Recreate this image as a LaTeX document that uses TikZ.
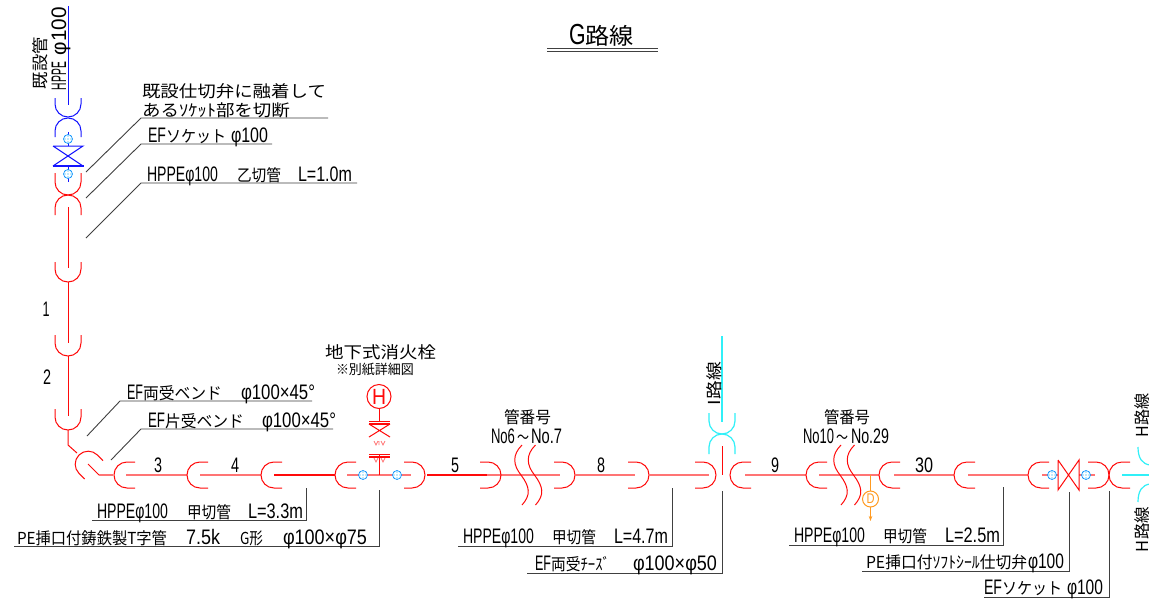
\documentclass[tikz,border=0pt]{standalone}
\usepackage{fontspec}
\usepackage{graphicx}
\usetikzlibrary{arrows.meta}
\newfontfamily\cjkfam{Noto Sans CJK JP}
\newfontfamily\latfam{Liberation Sans}
\newcommand\cjkf{\cjkfam\fontsize{16.5}{16.5}\selectfont}
\newcommand\latf{\latfam\fontsize{21}{21}\selectfont}
\newcommand\J[2]{\resizebox{#1pt}{\height}{\cjkf #2}}
\newcommand\Lt[2]{\resizebox{#1pt}{\height}{\latf #2}}
\newcommand\gap[1]{\hspace*{#1pt}}
\definecolor{lead}{gray}{0.25}
\definecolor{pale}{HTML}{FF7474}
\definecolor{hot}{HTML}{FF0A0A}
\definecolor{blu}{HTML}{1414FF}
\definecolor{cy}{HTML}{30F0F8}
\definecolor{orng}{HTML}{FF9A20}
\tikzset{
  lab/.style={inner sep=0pt,outer sep=0pt,anchor=base west,text=black},
  vlab/.style={lab,rotate=90},
  num/.style={inner sep=0pt,outer sep=0pt,anchor=base,text=black},
  leader/.style={draw=lead,line width=0.9pt},
  palepipe/.style={draw=pale,line width=1.4pt},
  thickpipe/.style={draw=hot,line width=1.7pt},
  redline/.style={draw=hot,line width=1pt},
  bluline/.style={draw=blu,line width=1pt},
  cyline/.style={draw=cy,line width=1.2pt},
  orline/.style={draw=orng,line width=1pt},
  joint/.style={circle,draw=blue!45!cyan,fill=cyan!25,line width=0.6pt,minimum size=9pt,inner sep=0pt,
    path picture={\draw[white,line width=0.4pt]
      ([xshift=-1.5pt]path picture bounding box.north) -- ([xshift=-1.5pt]path picture bounding box.south)
      ([xshift=1.5pt]path picture bounding box.north) -- ([xshift=1.5pt]path picture bounding box.south)
      ([yshift=-1.5pt]path picture bounding box.west) -- ([yshift=-1.5pt]path picture bounding box.east)
      ([yshift=1.5pt]path picture bounding box.west) -- ([yshift=1.5pt]path picture bounding box.east);}},
}
% socket: apex at (#1,#2), opening along angle #3, drawn with style #4, arm length #5
\newcommand\sock[5]{\draw[#4,shift={(#1,#2)},rotate=#3]
  (#5,-13) -- (13,-13) .. controls (5.8,-13) and (0,-7.2) .. (0,0)
  .. controls (0,7.2) and (5.8,13) .. (13,13) -- (#5,13);}
\newcommand\wave[1]{\draw[redline,shift={(#1,0)}]
  (0,445) .. controls (-10,455) and (-9,465) .. (-1,475)
  .. controls (8,487) and (9,495) .. (0,505);}
\begin{document}
\begin{tikzpicture}[x=1pt,y=-1pt]
\useasboundingbox (0,0) rectangle (1149,600);
\fill[white] (0,0) rectangle (1149,600);

% title
\node[lab] (title) at (569,44) {\scalebox{1.38}{\Lt{12}{G}\J{35}{路線}}};
\draw[leader] (547,48) -- (658,48) (547,51) -- (658,51);

% vertical existing pipe (blue)
\draw[bluline] (68,6) -- (68,105);
\sock{68}{117}{90}{bluline}{19}
\sock{68}{118}{-90}{bluline}{19}
\draw[bluline] (68,132) -- (68,146) (68,166) -- (68,182);
\draw[bluline] (53,146) -- (83,146) -- (53,166) (83,166) -- (68,156) -- (53,146);
\draw[draw=blu,line width=1.6pt] (53,166) -- (84,166);
\node[joint] (jv1) at (68,139) {};
\node[joint] (jv2) at (68,174) {};

% vertical new pipe (red)
\sock{68}{195}{90}{redline}{22}
\sock{68}{195}{-90}{redline}{20}
\draw[redline] (68,207) -- (68,268);
\sock{68}{282}{90}{redline}{20}
\draw[redline] (68,282) -- (68,343);
\sock{68}{356}{90}{redline}{21}
\draw[redline] (68,356) -- (68,416);
\sock{68}{430}{90}{redline}{21}
\draw[redline] (68,430) -- (68,445) -- (77,453);

% bend
\sock{79}{455}{-45}{redline}{21}
\draw[redline] (88,464) -- (99,475);
\draw[palepipe] (99,475) -- (113,475);

% horizontal run
\sock{114}{475}{0}{redline}{21}
\draw[palepipe] (126,475) -- (187,475);
\sock{187}{475}{0}{redline}{21}
\draw[palepipe] (200,475) -- (261,475);
\sock{261}{475}{0}{redline}{21}
\draw[thickpipe] (274,475) -- (335,475);
\sock{335}{475}{0}{redline}{21}
\draw[palepipe] (347,475) -- (411,475);
\sock{425}{475}{180}{redline}{21}
\draw[thickpipe] (427,475) -- (487,475);
\draw[palepipe] (487,475) -- (560,475);
\sock{501}{475}{180}{redline}{21}
\sock{575}{475}{180}{redline}{21}
\draw[palepipe] (575,475) -- (635,475);
\sock{649}{475}{180}{redline}{21}
\draw[palepipe] (649,475) -- (709,475);
\sock{716}{475}{180}{redline}{21}
\sock{730}{475}{0}{redline}{21}
\draw[palepipe] (745,475) -- (806,475);
\sock{806}{475}{0}{redline}{21}
\draw[palepipe] (819,475) -- (879,475);
\sock{879}{475}{0}{redline}{21}
\draw[palepipe] (894,475) -- (954,475);
\sock{954}{475}{0}{redline}{21}
\draw[palepipe] (968,475) -- (1028,475);
\sock{1028}{475}{0}{redline}{21}
\draw[palepipe] (1042,475) -- (1058,475) (1079,475) -- (1095,475);
\draw[redline] (1058,460) -- (1058,490) -- (1079,460) -- (1079,490) -- (1058,460);
\node[joint] (jr1) at (1052,475) {};
\node[joint] (jr2) at (1086,475) {};
\sock{1109}{475}{180}{redline}{21}
\sock{1109}{475}{0}{redline}{21}

% wave breaks
\wave{522}\wave{535.5}
\wave{841}\wave{854.5}

% hydrant
\node[circle,draw=hot,line width=1pt,minimum size=24pt,inner sep=0pt] (hyd) at (379,396.5) {};
\node[inner sep=0pt,text=hot] (hydH) at (379,396.5) {\resizebox{14pt}{\height}{\latfam\fontsize{22}{22}\selectfont H}};
\draw[redline] (hyd.south) -- (379,421);
\draw[redline] (369,421) -- (390,421);
\draw[draw=hot,line width=1.4pt] (369,424) -- (390,424);
\draw[redline] (369,424) -- (390,437) (390,424) -- (369,437);
\draw[draw=pale,line width=0.8pt] (374,441) -- (376,445) -- (378,441) (379,441) -- (379,445) (381,441) -- (383,445) -- (385,441);
\draw[draw=pale,line width=0.8pt] (374,458) -- (376,462) -- (378,458) (381,458) -- (383,462) -- (385,458);
\draw[redline] (369,454) -- (390,454);
\draw[draw=hot,line width=1.4pt] (369,457) -- (390,457);
\draw[redline] (379,454) -- (379,475);
\node[joint] (jh1) at (363,475) {};
\node[joint] (jh2) at (397,475) {};

% I branch
\draw[cyline] (722,336) -- (722,422);
\sock{722}{434}{90}{cyline}{21}
\sock{722}{434}{-90}{cyline}{20}
\draw[redline] (722,446) -- (722,475);

% H branches
\draw[cyline] (1122,475) -- (1149,475);
\draw[cyline] (1138,447) .. controls (1138,458) and (1142,464) .. (1150,465);
\draw[cyline] (1138,502) .. controls (1138,491) and (1142,485) .. (1150,484);

% drain
\draw[orline,-{Stealth[length=5pt,width=3.5pt]}] (870.5,475) -- (870.5,521);
\node[circle,draw=orng,fill=white,line width=1pt,minimum size=16pt,inner sep=0pt,text=orng] (drain) at (870.5,499) {\resizebox{8pt}{\height}{\latfam\fontsize{14}{14}\selectfont D}};

% leaders
\draw[leader] (86,172) -- (141,118) -- (328,118);
\draw[leader] (86,198) -- (141,144) -- (272,144);
\draw[leader] (86,238) -- (141,183) -- (357,183);
\draw[leader] (87,436) -- (120,401) -- (312,401);
\draw[leader] (111,460) -- (141,429) -- (333,429);
\draw[leader] (306,488) -- (306,520.5) -- (92,520.5);
\draw[leader] (379,490) -- (379,546.5) -- (14,546.5);
\draw[leader] (672,488) -- (672,546.5) -- (458,546.5);
\draw[leader] (722,491) -- (722,573) -- (527,573);
\draw[leader] (1003,487) -- (1003,545) -- (789,545);
\draw[leader] (1069,492) -- (1069,571) -- (862,571);
\draw[leader] (1109,491) -- (1109,597) -- (984,597);

% rotated labels
\node[vlab] (kisetsu) at (46,89) {\J{52}{既設管}};
\node[vlab] (hppev) at (66,90) {\Lt{28}{HPPE}\gap{7}\Lt{48}{φ100}};
\node[vlab] (iroute) at (720,405) {\J{43}{I路線}};
\node[vlab] (hroute1) at (1148,437) {\J{44}{H路線}};
\node[vlab] (hroute2) at (1148,552) {\J{45}{H路線}};

% labels
\node[lab] (n1a) at (142,97) {\J{184}{既設仕切弁に融着して}};
\node[lab] (n1b) at (142,116) {\J{148}{あるｿｹｯﾄ部を切断}};
\node[lab] (n2) at (148,142) {\Lt{18}{EF}\J{60}{ソケット}\gap{5}\Lt{37}{φ100}};
\node[lab] (n3) at (147,181) {\Lt{71}{HPPEφ100}\gap{19}\J{44}{乙切管}\gap{17}\Lt{54}{L=1.0m}};
\node[lab] (n4) at (127,399) {\Lt{16}{EF}\J{79}{両受ベンド}\gap{19}\Lt{74}{φ100×45°}};
\node[lab] (n5) at (148,427) {\Lt{17}{EF}\J{79}{片受ベンド}\gap{18}\Lt{74}{φ100×45°}};
\node[lab] (n6) at (97,518) {\Lt{71}{HPPEφ100}\gap{19}\J{44}{甲切管}\gap{17}\Lt{55}{L=3.3m}};
\node[lab] (n7) at (17,544) {\J{150}{PE挿口付鋳鉄製T字管}\gap{19}\Lt{34}{7.5k}\gap{20}\J{23}{G形}\gap{20}\Lt{84}{φ100×φ75}};
\node[lab] (n8) at (325,358) {\J{111}{地下式消火栓}};
\node[lab] (n9) at (336,374) {\scalebox{0.82}{\J{95}{※別紙詳細図}}};
\node[lab] (n10) at (504,423) {\J{47}{管番号}};
\node[lab] (n11) at (491,443) {\Lt{24}{No6}\gap{2}\J{12}{〜}\gap{2}\Lt{31}{No.7}};
\node[lab] (n12) at (463,543) {\Lt{71}{HPPEφ100}\gap{18}\J{44}{甲切管}\gap{18}\Lt{54}{L=4.7m}};
\node[lab] (n13) at (535,570) {\Lt{16}{EF}\J{59}{両受ﾁｰｽﾞ}\gap{23}\Lt{84}{φ100×φ50}};
\node[lab] (n14) at (824,423) {\J{46}{管番号}};
\node[lab] (n15) at (803,443) {\Lt{31}{No10}\gap{2}\J{12}{〜}\gap{3}\Lt{38}{No.29}};
\node[lab] (n16) at (794,542) {\Lt{71}{HPPEφ100}\gap{18}\J{44}{甲切管}\gap{18}\Lt{55}{L=2.5m}};
\node[lab] (n17) at (866,568) {\J{161}{PE挿口付ｿﾌﾄｼｰﾙ仕切弁}\gap{1}\Lt{36}{φ100}};
\node[lab] (n18) at (984,594) {\Lt{18}{EF}\J{60}{ソケット}\gap{5}\Lt{36}{φ100}};

% pipe numbers
\node[num] (p1) at (46,316) {\Lt{7}{1}};
\node[num] (p2) at (47,384) {\Lt{8}{2}};
\node[num] (p3) at (158,472) {\Lt{8}{3}};
\node[num] (p4) at (235,472) {\Lt{8}{4}};
\node[num] (p5) at (455,472) {\Lt{8}{5}};
\node[num] (p8) at (601,472) {\Lt{8}{8}};
\node[num] (p9) at (775,472) {\Lt{8}{9}};
\node[num] (p30) at (924,472) {\Lt{18}{30}};
\end{tikzpicture}
\end{document}
